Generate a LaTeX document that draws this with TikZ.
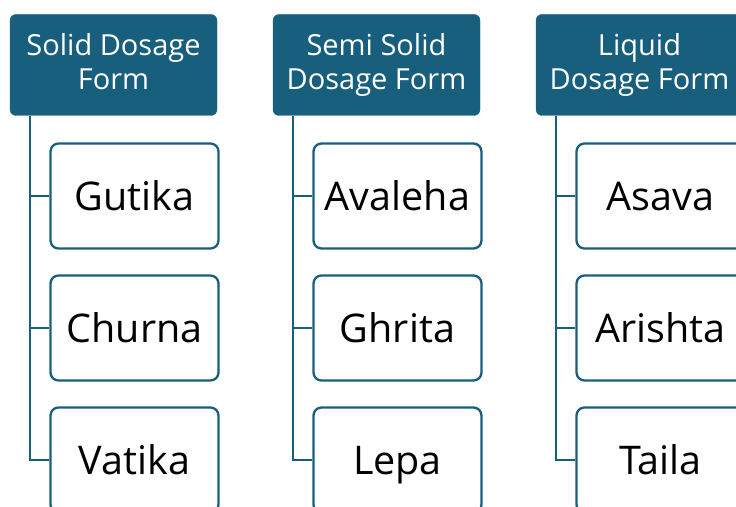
\documentclass[tikz,border=0pt]{standalone}
\usepackage{fontspec}
\setmainfont{Open Sans}
\usepackage{tikz}

\definecolor{teal1}{RGB}{24,94,125}

\begin{document}
\begin{tikzpicture}[x=1pt, y=1pt,
	head/.style={fill=teal1, draw=teal1, rounded corners=6pt, text=white, align=center, minimum width=207pt, minimum height=101pt, inner sep=0pt, font=\fontsize{29}{34}\selectfont},
	item/.style={fill=white, draw=teal1, line width=2.3pt, rounded corners=8pt, minimum width=168pt, minimum height=105pt, inner sep=0pt, text height=30pt, text depth=1pt, font=\fontsize{39.5}{42}\selectfont},
	conn/.style={draw=teal1, line width=2.6pt}]
	\useasboundingbox (0,0) rectangle (736,506);
	\clip (0,0) rectangle (736,506);
	% headers
	\node[head] (solid) at (113.5,441) {Solid Dosage\\Form\vphantom{g}};
	\node[head] (semisolid) at (376.5,441) {Semi Solid\\Dosage Form};
	\node[head] (liquid) at (639.5,441) {Liquid\\Dosage Form};
	% items
	\node[item] (gutika) at (134.5,310) {Gutika};
	\node[item] (churna) at (134.5,178) {Churna};
	\node[item] (vatika) at (134.5,46) {Vatika};
	\node[item] (avaleha) at (397.5,310) {Avaleha};
	\node[item] (ghrita) at (397.5,178) {Ghrita};
	\node[item] (lepa) at (397.5,46) {Lepa};
	\node[item] (asava) at (660.5,310) {Asava};
	\node[item] (arishta) at (660.5,178) {Arishta};
	\node[item] (taila) at (660.5,46) {Taila};
	% connectors
	\coordinate (s1) at ([xshift=20pt]solid.south west);
	\coordinate (s2) at ([xshift=20pt]semisolid.south west);
	\coordinate (s3) at ([xshift=20pt]liquid.south west);
	\draw[conn] (s1) |- (gutika.west);
	\draw[conn] (s1) |- (churna.west);
	\draw[conn] (s1) |- (vatika.west);
	\draw[conn] (s2) |- (avaleha.west);
	\draw[conn] (s2) |- (ghrita.west);
	\draw[conn] (s2) |- (lepa.west);
	\draw[conn] (s3) |- (asava.west);
	\draw[conn] (s3) |- (arishta.west);
	\draw[conn] (s3) |- (taila.west);
\end{tikzpicture}
\end{document}
